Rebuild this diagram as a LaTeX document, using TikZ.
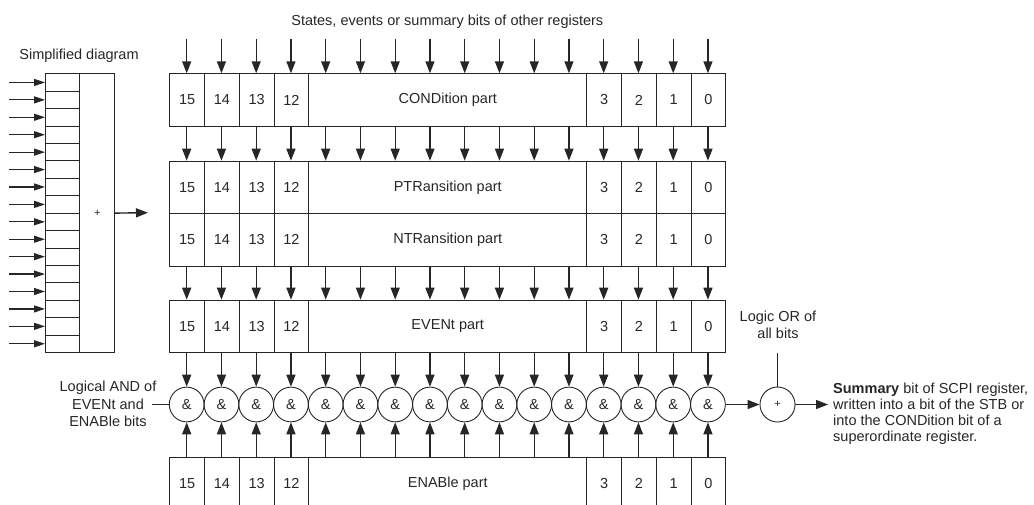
\documentclass[tikz,border=0pt]{standalone}
\usepackage{fontspec}
\setmainfont{Liberation Sans}
\usepackage{tikz}
\usetikzlibrary{arrows.meta, positioning, calc}

\begin{document}
\begin{tikzpicture}[x=1pt, y=-1pt,
    every node/.style={font=\fontsize{14.5}{17}\selectfont, text=black!85},
    cell/.style={draw=black!85, line width=0.9pt, minimum width=34.75pt,
                 minimum height=52.4pt, inner sep=0pt, anchor=north west},
    part/.style={cell, minimum width=278pt},
    gate/.style={circle, draw=black!85, line width=0.9pt, minimum size=34.75pt,
                 inner sep=0pt},
    plus/.style={font=\fontsize{11}{13}\selectfont},
    arr/.style={-{Triangle[length=12pt, width=9pt]}, line width=1.4pt, black!85},
    sarr/.style={-{Triangle[length=11pt, width=7pt]}, line width=1.2pt, black!85},
    lbl/.style={align=center, inner sep=0pt},
    wire/.style={line width=0.9pt, black!85},
  ]
    \useasboundingbox (0,0) rectangle (1034,504);
    \clip (0,0) rectangle (1034,504);

    % Simplified diagram
    \node[lbl] (simp-title) at (79,56) {Simplified diagram};
    \node[cell, plus, minimum width=35pt, minimum height=278.7pt] (simp)
         at (79.3,73.3) {+};
    \foreach \k in {0,...,15}{
      \node[cell, minimum width=34.3pt, minimum height=17.42pt] (s-\k)
           at (45,{73.3+17.42*\k}) {};
      \draw[sarr] ([xshift=-35.7pt]s-\k.west) -- (s-\k.west);
    }
    \coordinate (simp-out) at (148,212.7);
    \draw[arr] (simp.east) -- (simp-out);

    % Registers
    \node[lbl] (top-lbl) at (447.3,21.3)
         {States, events or summary bits of other registers};
    \foreach \r/\y/\txt in {cond/73.3/CONDition part, ptr/160.7/PTRansition part,
                            ntr/213.1/NTRansition part, evt/299.7/EVENt part,
                            ena/456.7/ENABle part}{
      \foreach \b/\i in {15/0,14/1,13/2,12/3,3/12,2/13,1/14,0/15}
        \node[cell] (\r-\b) at ({169.3+34.75*\i},\y) {\b};
      \node[part] (\r-part) at (308.3,\y) {\txt};
    }

    % AND gates and bit lines
    \coordinate (in-top) at (447.3,38.7);
    \foreach \i in {0,...,15}{
      \node[gate] (and-\i) at ({186.7+34.75*\i},404.5) {\&};
      \draw[arr] (and-\i |- in-top) -- (and-\i |- cond-part.north);
      \draw[arr] (and-\i |- cond-part.south) -- (and-\i |- ptr-part.north);
      \draw[arr] (and-\i |- ntr-part.south) -- (and-\i |- evt-part.north);
      \draw[arr] (and-\i |- evt-part.south) -- (and-\i.north);
      \draw[arr] (and-\i |- ena-part.north) -- (and-\i.south);
    }
    \node[lbl, font=\fontsize{14.5}{17.8}\selectfont] (and-lbl) at (108,404)
         {Logical AND of\\EVENt and\\ENABle bits};
    \coordinate (and-lbl-end) at (151.7,404.5);
    \draw[wire] (and-lbl-end) -- (and-0.west);

    % Logic OR
    \node[gate, plus, minimum size=35pt] (or) at (777.5,404.5) {+};
    \draw[arr] (and-15.east) -- (or.west);
    \coordinate (sum-out) at (828,404.5);
    \draw[arr] (or.east) -- (sum-out);
    \draw[wire] (or.north) -- (or.north |- evt-part.south);
    \node[lbl] (or-lbl) at (778,324.5) {Logic OR of\\all bits};
    \node[lbl, align=left, anchor=west, font=\fontsize{14.5}{15.9}\selectfont]
         (sum-lbl) at (833,414)
         {\textbf{Summary} bit of SCPI register,\\written into a bit of the STB or\\
          into the CONDition bit of a\\superordinate register.};
  \end{tikzpicture}
\end{document}
